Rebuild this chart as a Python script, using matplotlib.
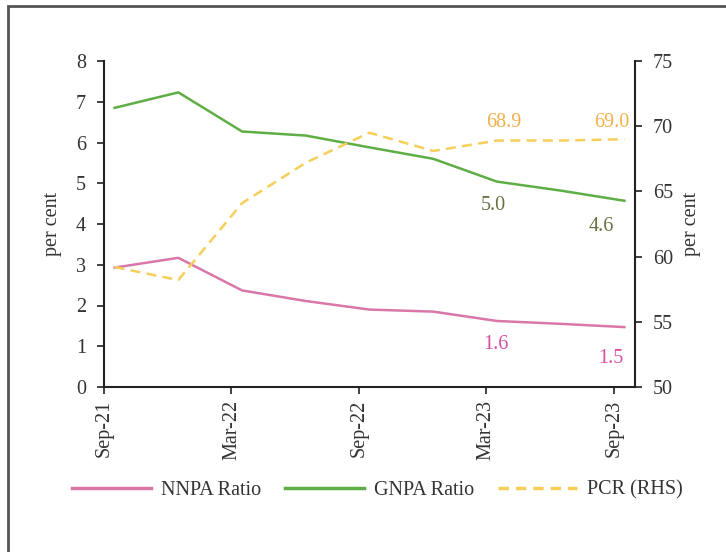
import matplotlib
matplotlib.use('Agg')
import matplotlib.pyplot as plt
from matplotlib.lines import Line2D

plt.rcParams['font.family'] = ['Liberation Serif', 'DejaVu Serif']

# quarterly data, Sep-21 .. Sep-23
quarters = ['Sep-21', 'Dec-21', 'Mar-22', 'Jun-22', 'Sep-22', 'Dec-22', 'Mar-23', 'Jun-23', 'Sep-23']
nnpa = [2.93, 3.17, 2.37, 2.11, 1.90, 1.85, 1.62, 1.55, 1.47]
gnpa = [6.85, 7.23, 6.27, 6.17, 5.88, 5.60, 5.04, 4.82, 4.57]
pcr = [59.2, 58.2, 64.1, 67.2, 69.5, 68.1, 68.9, 68.9, 69.0]
tick_labels = ['Sep-21', 'Mar-22', 'Sep-22', 'Mar-23', 'Sep-23']

# months since Sep-21, data sits mid-month
x = [i * 3 + 0.5 for i in range(len(quarters))]
tick_pos = [0, 6, 12, 18, 24]

pink = '#d877a8'
green = '#5fae45'
gold = '#f6cf5a'
fs = 14.5

fig = plt.figure(figsize=(7.26, 5.52), dpi=100)

# frame around the chart (right and bottom edges fall outside the picture)
fig.add_artist(plt.Rectangle((8 / 726, -0.05), 1.0, 1 - 6 / 552 + 0.05,
                             transform=fig.transFigure, fill=False,
                             edgecolor='#555555', linewidth=2))

ax = fig.add_axes([104 / 726, 1 - 387 / 552, (635 - 104) / 726, (387 - 61) / 552])
ax2 = ax.twinx()

ax.plot(x, nnpa, color=pink, linewidth=1.8)
ax.plot(x, gnpa, color=green, linewidth=1.8)
ax2.plot(x, pcr, color=gold, linewidth=1.8, linestyle=(0, (4, 2.5)))

ax.set_xlim(0, 25)
ax.set_ylim(0, 8)
ax2.set_ylim(50, 75)
ax.set_yticks(range(0, 9))
ax2.set_yticks(range(50, 76, 5))
ax.set_xticks(tick_pos)
ax.set_xticklabels(tick_labels, rotation=90)

for a in (ax, ax2):
    a.spines['top'].set_visible(False)
    for s in a.spines.values():
        s.set_linewidth(1.5)
        s.set_color('#222222')
    a.tick_params(labelsize=fs, colors='#333333', width=1.3, length=5, pad=8)
ax.tick_params(axis='x', pad=4)
ax.spines['right'].set_visible(False)
ax2.spines['left'].set_visible(False)
ax2.spines['bottom'].set_visible(False)

ax.set_ylabel('per cent', fontsize=fs, color='#333333', labelpad=10)
ax2.set_ylabel('per cent', fontsize=fs, color='#333333', labelpad=6)

# data labels on the last two points
def label(a, xi, yi, txt, dx, dy, col):
    a.annotate(txt, (xi, yi), xytext=(dx, dy), textcoords='offset pixels',
               ha='center', va='center', fontsize=fs, color=col)

label(ax, x[6], nnpa[6], '1.6', -1, -24, '#d64fa3')
label(ax, x[8], nnpa[8], '1.5', -14, -31, '#d64fa3')
label(ax, x[6], gnpa[6], '5.0', -4, -24, '#6b7040')
label(ax, x[8], gnpa[8], '4.6', -23, -26, '#6b7040')
label(ax2, x[6], pcr[6], '68.9', 7, 18, '#f2b04a')
label(ax2, x[8], pcr[8], '69.0', -13, 17, '#f2b04a')

handles = [Line2D([], [], color=pink, linewidth=2.5),
           Line2D([], [], color=green, linewidth=2.5),
           Line2D([], [], color=gold, linewidth=2.5, linestyle=(0, (3, 2)))]
fig.legend(handles, ['NNPA Ratio', 'GNPA Ratio', 'PCR (RHS)'], loc='center',
           bbox_to_anchor=(0.52, 1 - 490 / 552), ncol=3, frameon=False,
           fontsize=fs, handlelength=3.9, columnspacing=1.2, handletextpad=0.5,
           labelcolor='#333333')

fig.savefig('out.png', dpi=100)
